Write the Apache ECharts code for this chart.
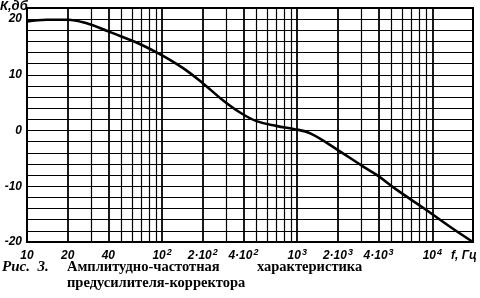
<!DOCTYPE html>
<html><head><meta charset="utf-8">
<script src="https://cdn.jsdelivr.net/npm/echarts@6/dist/echarts.min.js"></script>
<style>html,body{margin:0;padding:0;background:#fff}#c{width:480px;height:298px}</style>
</head><body><div id="c"></div>
<script>
// Frequency response data (f in Hz, K in dB)
const freqs = [10, 14, 20, 28, 40, 51, 69, 100, 143, 200, 280, 380, 500, 710, 940, 1250, 2000, 3100, 3900, 5500, 8600, 13600, 20000];
const gains = [19.6, 19.9, 19.9, 19.2, 17.8, 16.8, 15.5, 13.5, 11.2, 8.5, 5.5, 3.2, 1.7, 0.8, 0.3, -0.5, -3.5, -6.5, -8.0, -10.7, -13.9, -17.3, -20];
// Tick labels on the frequency axis (base, exponent)
const xTickValues = [10, 20, 40, 100, 200, 400, 1000, 2000, 4000, 10000];
const xTickBases = ['10', '20', '40', '10', '2·10', '4·10', '10', '2·10', '4·10', '10'];
const xTickExps = ['', '', '', '2', '2', '2', '3', '3', '3', '4'];
// Vertical grid lines (1..9 per decade)
const gridFreqs = [20,30,40,50,60,70,80,90,100,200,300,400,500,600,700,800,900,1000,2000,3000,4000,5000,6000,7000,8000,9000,10000];
const yLabelValues = [-20, -10, 0, 10, 20];

const chart = echarts.init(document.getElementById('c'), null, {renderer:'canvas'});
const lblFont = {fontFamily:'Liberation Sans', fontStyle:'italic', fontWeight:'bold', color:'#000'};

function nearestLabel(v){
  let best=-1, bd=1e9;
  xTickValues.forEach((t,i)=>{const d=Math.abs(Math.log10(v)-Math.log10(t)); if(d<bd){bd=d;best=i;}});
  if (bd>=0.01) return '';
  return '{n|'+xTickBases[best]+'}' + (xTickExps[best] ? '{s|'+xTickExps[best]+'}' : '');
}

const option = {
  animation:false,
  backgroundColor:'#fff',
  grid:{left:27,right:7,top:8,bottom:56,show:true,borderColor:'#000',borderWidth:2,backgroundColor:'transparent'},
  xAxis:{type:'log',logBase:10,min:10,max:20000,
    axisLine:{show:false},axisTick:{show:false},splitLine:{show:false},minorSplitLine:{show:false},
    axisLabel:Object.assign({customValues:xTickValues,formatter:v=>nearestLabel(v),margin:6,showMinLabel:true,showMaxLabel:true,hideOverlap:false,
      rich:{
        n:Object.assign({fontSize:12,lineHeight:14,verticalAlign:'bottom'},lblFont),
        s:Object.assign({fontSize:9,lineHeight:14,verticalAlign:'top',padding:[0,0,0,1]},lblFont)
      }},lblFont)
  },
  yAxis:{type:'value',min:-20,max:22,interval:2,
    axisLine:{show:false},axisTick:{show:false},
    splitLine:{show:true,lineStyle:{color:'#000',width:1.2}},
    axisLabel:Object.assign({formatter:v=>yLabelValues.indexOf(v)>=0?String(v):'',margin:5,fontSize:12},lblFont)
  },
  graphic:[
    {type:'text',left:0,top:0,style:{text:'К,дб',font:'italic bold 13px "Liberation Sans"',fill:'#000'}},
    {type:'text',left:451,top:250,style:{text:'f, Гц',font:'italic bold 12px "Liberation Sans"',fill:'#000'}},
    {type:'text',left:2,top:260,style:{text:'Рис.  3.',font:'italic bold 15px "Liberation Serif"',fill:'#000'}},
    {type:'text',left:67,top:260,style:{text:'Амплитудно-частотная',font:'bold 14.5px "Liberation Serif"',fill:'#000'}},
    {type:'text',left:257,top:260,style:{text:'характеристика',font:'bold 14.5px "Liberation Serif"',fill:'#000'}},
    {type:'text',left:67,top:276,style:{text:'предусилителя-корректора',font:'bold 14.5px "Liberation Serif"',fill:'#000'}}
  ],
  series:[
    {type:'line',data:[],silent:true,
      markLine:{silent:true,symbol:'none',label:{show:false},
        data:gridFreqs.map(f=>({xAxis:f,lineStyle:{color:'#000',type:'solid',width:xTickValues.indexOf(f)>=0?1.8:1.2}}))}
    },
    {type:'line',data:freqs.map((f,i)=>[f,gains[i]]),smooth:0.4,showSymbol:false,
      lineStyle:{color:'#000',width:2.6}}
  ]
};
chart.setOption(option);
</script></body></html>
